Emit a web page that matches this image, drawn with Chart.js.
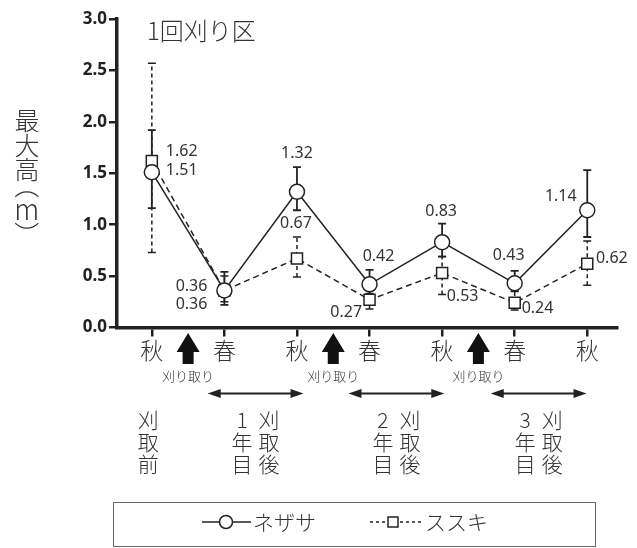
<!DOCTYPE html>
<html>
<head>
<meta charset="utf-8">
<script src="https://cdn.jsdelivr.net/npm/chart.js@4/dist/chart.umd.min.js"></script>
<style>
  html, body { margin: 0; padding: 0; background: #fff; }
  canvas { display: block; }
</style>
</head>
<body>
<canvas id="c" width="637" height="548"></canvas>
<script>
// Seasons along the x axis (autumn / spring survey dates)
const seasons = ['秋', '春', '秋', '春', '秋', '春', '秋'];

// Maximum plant height (m), with the ends of each error bar
const nezasa     = [1.51, 0.36, 1.32, 0.42, 0.83, 0.43, 1.14];
const nezasaHigh = [1.92, 0.54, 1.56, 0.56, 1.01, 0.55, 1.53];
const nezasaLow  = [1.16, 0.22, 1.14, 0.33, 0.69, 0.36, 0.88];

const susuki     = [1.62, 0.36, 0.67, 0.27, 0.53, 0.24, 0.62];
const susukiHigh = [2.57, 0.50, 0.88, 0.40, 0.69, 0.35, 0.84];
const susukiLow  = [0.73, 0.25, 0.49, 0.18, 0.32, 0.17, 0.41];

const seriesNames = ['ネザサ', 'ススキ'];
const yTickValues = [0, 0.5, 1.0, 1.5, 2.0, 2.5, 3.0];

// Cutting events (between autumn and spring) and the periods after each cut
const cutPositions = [0.5, 2.5, 4.5];
const cutLabel = '刈り取り';
const beforeLabel = ['刈', '取', '前'];
const periodYears = ['1', '2', '3'];
const periodSpans = [[0.77, 2.09], [2.71, 4.03], [4.67, 5.99]];
const afterLabel = ['刈', '取', '後'];

const titleText = '1回刈り区';
const yTitleChars = ['最', '大', '高', '（', 'm', '）'];

const CJK = '"Noto Sans CJK JP", "Noto Sans", sans-serif';
const NUM = '"Noto Sans", "DejaVu Sans", sans-serif';
const INK = '#222';
const TEXT = '#333';

// Where each value label sits relative to its marker
const nezasaLabelPos = [
  { dx: 14, dy: -2, align: 'left' },
  { dx: -17, dy: -4.5, align: 'right' },
  { dx: 0, dy: -38, align: 'center' },
  { dx: 9, dy: -28, align: 'center' },
  { dx: -1, dy: -31, align: 'center' },
  { dx: -6, dy: -27.6, align: 'center' },
  { dx: -10.6, dy: -13.6, align: 'right' }
];
const susukiLabelPos = [
  { dx: 14, dy: -9, align: 'left' },
  { dx: -17, dy: 13.5, align: 'right' },
  { dx: -1, dy: -35, align: 'center' },
  { dx: -7.5, dy: 12.6, align: 'right' },
  { dx: 4.6, dy: 23, align: 'left' },
  { dx: 7, dy: 5.5, align: 'left' },
  { dx: 8.7, dy: -5.5, align: 'left' }
];

// Draw a glyph so that its inked box is centred on (cx, cy), optionally
// rotated (for vertical-set brackets) or stretched to a given ink size.
function drawGlyph(ctx, ch, cx, cy, opts) {
  const o = opts || {};
  ctx.save();
  ctx.textAlign = 'left';
  ctx.textBaseline = 'alphabetic';
  const m = ctx.measureText(ch);
  const w = m.actualBoundingBoxRight + m.actualBoundingBoxLeft;
  const h = m.actualBoundingBoxAscent + m.actualBoundingBoxDescent;
  const xc = (m.actualBoundingBoxRight - m.actualBoundingBoxLeft) / 2;
  const yc = (m.actualBoundingBoxDescent - m.actualBoundingBoxAscent) / 2;
  ctx.translate(cx, cy);
  if (o.rotate) ctx.rotate(o.rotate);
  if (o.w && o.h) ctx.scale(o.w / w, o.h / h);
  ctx.fillText(ch, -xc, -yc);
  ctx.restore();
}

const errorBars = {
  id: 'errorBars',
  beforeDatasetsDraw(chart) {
    const { ctx, scales: { x, y } } = chart;
    const draw = (lows, highs, dash, lw) => {
      ctx.save();
      ctx.strokeStyle = INK;
      ctx.lineWidth = lw;
      lows.forEach((lo, i) => {
        const px = x.getPixelForValue(i);
        const pl = y.getPixelForValue(lo);
        const ph = y.getPixelForValue(highs[i]);
        ctx.setLineDash(dash);
        ctx.beginPath();
        ctx.moveTo(px, pl); ctx.lineTo(px, ph);
        ctx.stroke();
        ctx.setLineDash([]);
        ctx.beginPath();
        ctx.moveTo(px - 4, pl); ctx.lineTo(px + 4, pl);
        ctx.moveTo(px - 4, ph); ctx.lineTo(px + 4, ph);
        ctx.stroke();
      });
      ctx.restore();
    };
    draw(susukiLow, susukiHigh, [4, 3], 1.5);
    draw(nezasaLow, nezasaHigh, [], 1.8);
  }
};

const annotations = {
  id: 'annotations',
  afterDraw(chart) {
    const { ctx, scales: { x, y } } = chart;
    ctx.save();

    // value labels
    ctx.fillStyle = TEXT;
    ctx.font = '16px ' + NUM;
    ctx.textBaseline = 'middle';
    const label = (vals, pos) => vals.forEach((v, i) => {
      const p = pos[i];
      ctx.textAlign = p.align;
      ctx.fillText(v.toFixed(2), x.getPixelForValue(i) + p.dx, y.getPixelForValue(v) + p.dy);
    });
    label(nezasa, nezasaLabelPos);
    label(susuki, susukiLabelPos);

    // title
    ctx.font = '300 24px ' + CJK;
    ctx.textAlign = 'left';
    ctx.fillText(titleText, 147, 31);

    // y axis title, set vertically
    ctx.font = '300 25px ' + CJK;
    drawGlyph(ctx, yTitleChars[0], 27, 121.5);
    drawGlyph(ctx, yTitleChars[1], 27, 145.5);
    drawGlyph(ctx, yTitleChars[2], 27, 170);
    drawGlyph(ctx, yTitleChars[3], 27, 194, { rotate: Math.PI / 2 });
    drawGlyph(ctx, yTitleChars[4], 27, 211, { w: 21, h: 17 });
    drawGlyph(ctx, yTitleChars[5], 27, 226, { rotate: Math.PI / 2 });

    // cutting arrows
    cutPositions.forEach(pos => {
      const cx = x.getPixelForValue(pos);
      ctx.fillStyle = '#111';
      ctx.beginPath();
      ctx.moveTo(cx, 333);
      ctx.lineTo(cx + 11.5, 352);
      ctx.lineTo(cx + 5.5, 352);
      ctx.lineTo(cx + 5.5, 364);
      ctx.lineTo(cx - 5.5, 364);
      ctx.lineTo(cx - 5.5, 352);
      ctx.lineTo(cx - 11.5, 352);
      ctx.closePath();
      ctx.fill();
      ctx.fillStyle = TEXT;
      ctx.font = '300 13px ' + CJK;
      ctx.textAlign = 'center';
      ctx.textBaseline = 'middle';
      ctx.fillText(cutLabel, cx, 376);
    });

    // period arrows
    ctx.strokeStyle = INK;
    ctx.fillStyle = INK;
    ctx.lineWidth = 1.8;
    const ay = 393.5;
    periodSpans.forEach(([a, b]) => {
      const x1 = x.getPixelForValue(a), x2 = x.getPixelForValue(b);
      ctx.beginPath();
      ctx.moveTo(x1 + 6, ay); ctx.lineTo(x2 - 6, ay);
      ctx.stroke();
      ctx.beginPath();
      ctx.moveTo(x1, ay); ctx.lineTo(x1 + 13, ay - 4.5); ctx.lineTo(x1 + 13, ay + 4.5); ctx.closePath();
      ctx.moveTo(x2, ay); ctx.lineTo(x2 - 13, ay - 4.5); ctx.lineTo(x2 - 13, ay + 4.5); ctx.closePath();
      ctx.fill();
    });

    // stage texts
    ctx.fillStyle = TEXT;
    ctx.font = '300 21px ' + CJK;
    ctx.textAlign = 'center';
    ctx.textBaseline = 'middle';
    const rows = [420, 442, 464];
    const bx = x.getPixelForValue(-0.05);
    beforeLabel.forEach((ch, r) => ctx.fillText(ch, bx, rows[r]));
    periodSpans.forEach(([a, b], k) => {
      const c = (x.getPixelForValue(a) + x.getPixelForValue(b)) / 2;
      [periodYears[k], '年', '目'].forEach((ch, r) => ctx.fillText(ch, c - 13.5, rows[r]));
      afterLabel.forEach((ch, r) => ctx.fillText(ch, c + 13.5, rows[r]));
    });

    // legend
    ctx.strokeStyle = '#666';
    ctx.lineWidth = 1;
    ctx.strokeRect(113.5, 502.5, 482, 44);
    const ly = 522;
    ctx.strokeStyle = INK;
    ctx.lineWidth = 1.5;
    ctx.beginPath(); ctx.moveTo(202, ly); ctx.lineTo(251, ly); ctx.stroke();
    ctx.beginPath(); ctx.arc(226, ly, 6.5, 0, Math.PI * 2);
    ctx.fillStyle = '#fff'; ctx.fill(); ctx.stroke();
    ctx.setLineDash([3, 3]);
    ctx.beginPath(); ctx.moveTo(370, ly); ctx.lineTo(422, ly); ctx.stroke();
    ctx.setLineDash([]);
    ctx.fillStyle = '#fff';
    ctx.fillRect(388, ly - 5, 10, 10);
    ctx.strokeRect(388, ly - 5, 10, 10);
    ctx.fillStyle = TEXT;
    ctx.font = '300 21px ' + CJK;
    ctx.textAlign = 'left';
    ctx.fillText(seriesNames[0], 253, ly);
    ctx.fillText(seriesNames[1], 425, ly);

    ctx.restore();
  }
};

new Chart(document.getElementById('c'), {
  type: 'line',
  data: {
    datasets: [
      {
        label: seriesNames[0],
        data: nezasa.map((v, i) => ({ x: i, y: v })),
        borderColor: INK,
        borderWidth: 1.5,
        pointStyle: 'circle',
        pointRadius: 7.5,
        pointBackgroundColor: '#fff',
        pointBorderColor: INK,
        pointBorderWidth: 1.5,
        tension: 0
      },
      {
        label: seriesNames[1],
        data: susuki.map((v, i) => ({ x: i, y: v })),
        borderColor: INK,
        borderWidth: 1.5,
        borderDash: [6, 4],
        pointStyle: 'rect',
        pointRadius: 7.8,
        pointBackgroundColor: '#fff',
        pointBorderColor: INK,
        pointBorderWidth: 1.5,
        tension: 0
      }
    ]
  },
  options: {
    responsive: false,
    animation: false,
    events: [],
    layout: { padding: { top: 19, right: 20, left: 0, bottom: 0 } },
    plugins: { legend: { display: false }, tooltip: { enabled: false } },
    scales: {
      x: {
        type: 'linear',
        min: -0.48,
        max: 6.41,
        afterBuildTicks: s => { s.ticks = seasons.map((_, i) => ({ value: i })); },
        afterFit: s => { s.height = 220.5; },
        grid: { drawOnChartArea: false, drawTicks: true, tickLength: 9, color: INK, lineWidth: 2.5 },
        border: { display: true, color: INK, width: 3.5 },
        ticks: {
          callback: v => seasons[v] ?? '',
          font: { family: CJK, size: 23, weight: '300' },
          color: TEXT,
          padding: 0,
          maxRotation: 0,
          autoSkip: false
        }
      },
      y: {
        min: 0,
        max: 3,
        afterBuildTicks: s => { s.ticks = yTickValues.map(v => ({ value: v })); },
        afterFit: s => { s.width = 117; },
        grid: { drawOnChartArea: false, drawTicks: true, tickLength: 8, color: INK, lineWidth: 2.5 },
        border: { display: true, color: INK, width: 3.5 },
        ticks: {
          callback: v => Number(v).toFixed(1),
          font: { family: NUM, size: 17, weight: 'bold' },
          color: INK,
          padding: 2
        }
      }
    }
  },
  plugins: [errorBars, annotations]
});
</script>
</body>
</html>
